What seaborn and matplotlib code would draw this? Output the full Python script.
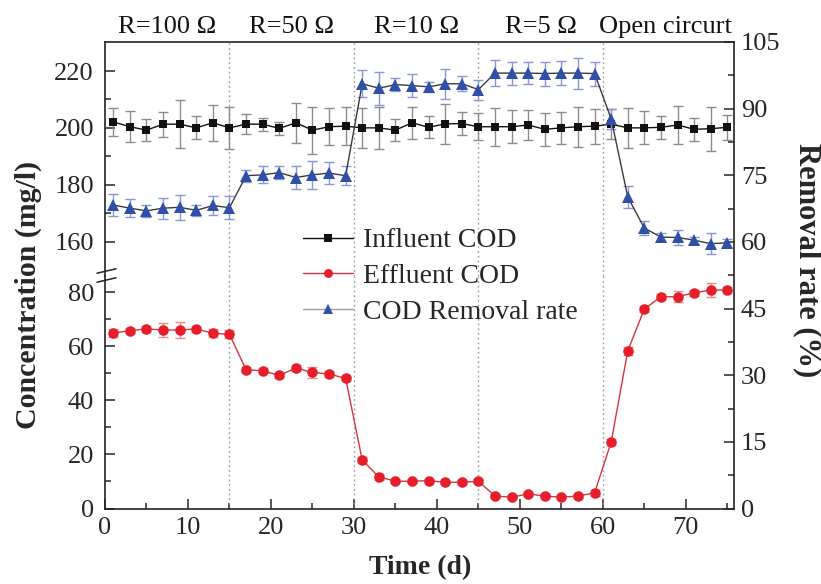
import matplotlib
matplotlib.use("Agg")
import matplotlib.pyplot as plt
from matplotlib.lines import Line2D
from matplotlib.ticker import FixedLocator
import seaborn as sns

# ---------------- data ----------------
days = [1, 3, 5, 7, 9, 11, 13, 15, 17, 19, 21, 23, 25, 27, 29, 31, 33, 35, 37,
        39, 41, 43, 45, 47, 49, 51, 53, 55, 57, 59, 61, 63, 65, 67, 69, 71, 73, 75]

influent = [202.1, 200.4, 199.2, 201.3, 201.3, 200.0, 201.8, 200.0, 201.3, 201.3,
            199.8, 201.8, 199.2, 200.4, 200.6, 200.0, 200.0, 199.2, 201.8, 200.2,
            201.4, 201.5, 200.4, 200.4, 200.4, 201.0, 199.5, 200.0, 200.4, 200.6,
            201.3, 200.0, 200.0, 200.2, 201.0, 199.5, 199.7, 200.2]
influent_err = [5.0, 5.4, 3.8, 4.4, 8.5, 4.0, 6.4, 7.5, 3.6, 2.3, 2.3, 7.0, 8.3, 6.6,
                6.8, 7.0, 7.4, 3.8, 5.7, 3.8, 7.0, 4.1, 4.7, 6.7, 5.8, 5.3, 5.8, 5.7,
                7.0, 6.1, 5.3, 7.0, 5.8, 4.1, 6.8, 4.1, 7.8, 4.4]

effluent = [64.9, 65.9, 66.5, 66.1, 66.1, 66.5, 64.9, 64.5, 51.4, 51.0, 49.3, 52.0,
            50.4, 49.8, 48.2, 17.9, 11.7, 10.1, 10.1, 10.3, 9.7, 9.7, 10.1, 4.6, 4.2,
            5.4, 4.6, 4.2, 4.6, 5.8, 24.6, 58.4, 73.9, 78.4, 78.4, 79.9, 80.9, 80.9]
effluent_err = [1.5, 1.0, 1.0, 2.5, 3.0, 1.0, 1.5, 1.5, 1.0, 1.0, 1.0, 1.0, 2.0, 1.0,
                1.0, 1.0, 1.0, 0.8, 0.8, 0.8, 0.8, 0.8, 0.8, 0.8, 0.8, 0.8, 0.8, 0.8,
                0.8, 1.0, 1.0, 1.5, 1.2, 1.0, 2.0, 1.2, 2.5, 1.2]

removal = [68.3, 67.6, 67.0, 67.6, 67.8, 67.1, 68.2, 67.7, 74.9, 75.1, 75.6, 74.5,
           75.1, 75.5, 74.9, 95.6, 94.6, 95.4, 95.2, 94.9, 95.6, 95.6, 94.3, 98.0,
           98.0, 98.0, 97.9, 98.0, 98.0, 97.9, 87.7, 70.1, 63.1, 61.1, 61.0, 60.4,
           59.6, 59.8]
removal_err = [2.4, 1.95, 1.3, 2.4, 2.85, 1.2, 2.1, 2.6, 1.3, 1.9, 1.5, 2.6, 3.15, 2.4,
               2.1, 3.0, 3.7, 1.4, 2.5, 1.2, 3.4, 1.7, 2.25, 2.9, 2.6, 2.4, 2.7, 2.7,
               3.5, 2.7, 2.2, 2.4, 1.5, 0.8, 1.7, 0.8, 2.4, 0.9]

phase_bounds = [15, 30, 45, 60]
phase_labels = ["R=100 \u03a9", "R=50 \u03a9", "R=10 \u03a9", "R=5 \u03a9", "Open circurt"]
phase_centers = [7.5, 22.5, 37.5, 52.5, 67.5]

x_major = [0, 10, 20, 30, 40, 50, 60, 70]
x_minor = [5, 15, 25, 35, 45, 55, 65, 75]
up_major = [160, 180, 200, 220]
up_minor = [170, 190, 210]
low_major = [0, 20, 40, 60, 80]
low_minor = [10, 30, 50, 70]
r_major = [0, 15, 30, 45, 60, 75, 90, 105]
r_minor = [7.5, 22.5, 37.5, 52.5, 67.5, 82.5, 97.5]

# ---------------- style ----------------
sns.set_style("ticks")
plt.rcParams["font.family"] = ["Liberation Serif", "DejaVu Serif"]
plt.rcParams["mathtext.fontset"] = "stix"

W_PX, H_PX = 821, 584
fig = plt.figure(figsize=(W_PX / 100, H_PX / 100), dpi=100)

left_px, right_px, top_px, bot_px, split_px = 105, 734, 42, 508.5, 276
L = left_px / W_PX
Wd = (right_px - left_px) / W_PX
B = 1 - bot_px / H_PX
T = 1 - top_px / H_PX
S = 1 - split_px / H_PX

ax_low = fig.add_axes([L, B, Wd, S - B])
ax_up = fig.add_axes([L, S, Wd, T - S])
ax_r = fig.add_axes([L, B, Wd, T - B])
ax_r.set_facecolor("none")

XLIM = (0, 75.8)
for a in (ax_low, ax_up, ax_r):
    a.set_xlim(*XLIM)
ax_low.set_ylim(0, 86.1)
ax_up.set_ylim(147.9, 230.2)
ax_r.set_ylim(0, 105)

lw_frame = 1.2
for a in (ax_low, ax_up, ax_r):
    for s in a.spines.values():
        s.set_linewidth(lw_frame)
        s.set_color("#222222")
ax_low.spines["top"].set_visible(False)
ax_low.spines["right"].set_visible(False)
ax_up.spines["top"].set_visible(False)
ax_up.spines["right"].set_visible(False)
ax_up.spines["bottom"].set_visible(False)
ax_r.spines["left"].set_visible(False)
ax_r.spines["bottom"].set_visible(False)

tick_font = 19
ax_low.xaxis.set_major_locator(FixedLocator(x_major))
ax_low.xaxis.set_minor_locator(FixedLocator(x_minor))
ax_low.tick_params(axis="x", which="major", direction="in", length=7, width=1.1,
                   labelsize=tick_font, pad=6, top=False)
ax_low.tick_params(axis="x", which="minor", direction="in", length=4, width=1.1, top=False)
ax_up.tick_params(axis="x", which="both", bottom=False, labelbottom=False)
ax_r.tick_params(axis="x", which="both", bottom=False, top=False, labelbottom=False)

ax_low.yaxis.set_major_locator(FixedLocator(low_major))
ax_low.yaxis.set_minor_locator(FixedLocator(low_minor))
ax_up.yaxis.set_major_locator(FixedLocator(up_major))
ax_up.yaxis.set_minor_locator(FixedLocator(up_minor))
for a in (ax_low, ax_up):
    a.tick_params(axis="y", which="major", direction="in", length=7, width=1.1,
                  labelsize=tick_font, pad=8, right=False)
    a.tick_params(axis="y", which="minor", direction="in", length=4, width=1.1, right=False)

ax_r.yaxis.tick_right()
ax_r.yaxis.set_major_locator(FixedLocator(r_major))
ax_r.yaxis.set_minor_locator(FixedLocator(r_minor))
ax_r.tick_params(axis="y", which="major", direction="in", length=7, width=1.1,
                 labelsize=tick_font, pad=5, left=False)
ax_r.tick_params(axis="y", which="minor", direction="in", length=4, width=1.1, left=False)

for a in (ax_low, ax_up):
    for xb in phase_bounds:
        a.axvline(xb, color="#9a9a9a", lw=1.0, ls=(0, (1.2, 2.2)), zorder=1)

c_inf, c_inf_err = "#111111", "#8c8c8c"
c_eff_line, c_eff_mk, c_eff_err = "#d8343c", "#e51e2a", "#ec8a8e"
c_rem_line, c_rem_mk, c_rem_err = "#3a3a3a", "#2f4fa8", "#8796d4"

ax_up.errorbar(days, influent, yerr=influent_err, fmt="none", ecolor=c_inf_err,
               elinewidth=1.0, capsize=3.6, capthick=1.0, zorder=2)
sns.lineplot(x=days, y=influent, ax=ax_up, color=c_inf, lw=1.0, marker="s",
             markersize=6.2, markeredgewidth=0, markerfacecolor=c_inf, zorder=3)

ax_low.errorbar(days, effluent, yerr=effluent_err, fmt="none", ecolor=c_eff_err,
                elinewidth=1.0, capsize=3.6, capthick=1.0, zorder=2)
sns.lineplot(x=days, y=effluent, ax=ax_low, color=c_eff_line, lw=1.0, marker="o",
             markersize=7.6, markeredgewidth=0, markerfacecolor=c_eff_mk, zorder=3)

ax_r.errorbar(days, removal, yerr=removal_err, fmt="none", ecolor=c_rem_err,
              elinewidth=1.0, capsize=3.6, capthick=1.0, zorder=2)
sns.lineplot(x=days, y=removal, ax=ax_r, color=c_rem_line, lw=1.0, marker="^",
             markersize=8.5, markeredgewidth=0, markerfacecolor=c_rem_mk, zorder=3)

for a in (ax_low, ax_up, ax_r):
    a.set_xlabel("")
    a.set_ylabel("")
    lg = a.get_legend()
    if lg is not None:
        lg.remove()

def px2fig(x, y):
    return x / W_PX, 1 - y / H_PX

for yc in (271, 280):
    (x0, y0), (x1, y1) = px2fig(97, yc + 2.2), px2fig(116, yc - 2.2)
    fig.add_artist(Line2D([x0, x1], [y0, y1], color="#222222", lw=1.1))

for xc, lab in zip(phase_centers, phase_labels):
    ax_r.text(xc, 1.0193, lab, transform=ax_r.get_xaxis_transform(),
              ha="center", va="baseline", fontsize=19, color="#111111")

handles = [
    Line2D([], [], color=c_inf, lw=1.0, marker="s", markersize=5.2,
           markeredgewidth=0, markerfacecolor=c_inf),
    Line2D([], [], color=c_eff_line, lw=1.0, marker="o", markersize=6.4,
           markeredgewidth=0, markerfacecolor=c_eff_mk),
    Line2D([], [], color="#9a9a9a", lw=1.0, marker="^", markersize=7.2,
           markeredgewidth=0, markerfacecolor=c_rem_mk),
]
labels = ["Influent COD", "Effluent COD", "COD Removal rate"]
fig.legend(handles, labels, loc="upper left", bbox_to_anchor=px2fig(303, 228),
           frameon=False, fontsize=20, handlelength=1.8, handletextpad=0.35,
           labelspacing=0.37, borderpad=0, borderaxespad=0)

fig.text(*px2fig(28, 295), "Concentration (mg/l)", rotation=90, ha="center",
         va="center", fontsize=21.5, fontweight="bold")
fig.text(*px2fig(807, 260), "Removal rate (%)", rotation=270, ha="center",
         va="center", fontsize=22, fontweight="bold")
fig.text(*px2fig(420, 568), "Time (d)", ha="center", va="center",
         fontsize=20, fontweight="bold")

fig.savefig("out.png", dpi=100)
